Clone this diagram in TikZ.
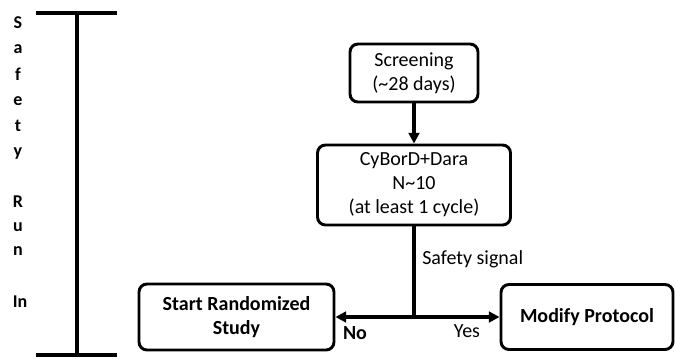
\documentclass[tikz,border=0pt]{standalone}
\usepackage{fontspec}
\setmainfont{Carlito}
\usetikzlibrary{arrows.meta}
\tikzset{
  box/.style={draw=black, line width=2.2pt, rounded corners=6pt, align=center, inner sep=0pt,
    font=\fontsize{15}{18}\selectfont},
  lbl/.style={inner sep=0pt, font=\fontsize{15}{18}\selectfont},
  letter/.style={inner sep=0pt, font=\fontsize{13.5}{16}\selectfont\bfseries},
  conn/.style={line width=2.6pt},
  arr/.style={conn, -{Triangle[length=8pt,width=8pt]}},
}
\begin{document}
\begin{tikzpicture}[x=0.75pt, y=-0.75pt]
\useasboundingbox (0,0) rectangle (675,358);
% timeline
\coordinate (tl) at (36,13);
\coordinate (tr) at (117,13);
\coordinate (tm) at (77,13);
\coordinate (bl) at (36,355);
\coordinate (br) at (117,355);
\coordinate (bm) at (77,355);
\draw[line width=3pt] (tl) -- (tr);
\draw[line width=3pt] (bl) -- (br);
\draw[line width=2.4pt] (tm) -- (bm);
\node[letter] (l1) at (18,23) {S};
\node[letter] (l2) at (18,49) {a};
\node[letter] (l3) at (18,74) {f};
\node[letter] (l4) at (18,101) {e};
\node[letter] (l5) at (18,126) {t};
\node[letter] (l6) at (18,154) {y};
\node[letter] (l7) at (18,202) {R};
\node[letter] (l8) at (18,227) {u};
\node[letter] (l9) at (18,251) {n};
\node[letter] (l10) at (20,302) {In};
% boxes
\node[box, minimum width=96pt, minimum height=43.5pt] (scr) at (414,73) {Screening\\(\textasciitilde28 days)};
\node[box, minimum width=144.75pt, minimum height=60pt] (cyb) at (414,185) {CyBorD+Dara\\N\textasciitilde10\\(at least 1 cycle)};
\node[box, minimum width=146.25pt, minimum height=49.5pt, font=\fontsize{15}{18}\selectfont\bfseries] (start) at (236.5,317) {Start Randomized\\Study};
\node[box, minimum width=129pt, minimum height=48.75pt, font=\fontsize{15}{18}\selectfont\bfseries] (mod) at (587,317) {Modify Protocol};
\coordinate (junc) at (414,317);
% connectors
\draw[arr] (scr) -- (cyb);
\draw[conn] (cyb) -- (junc);
\draw[arr] (junc) -- (start);
\draw[arr] (junc) -- (mod);
\node[lbl, anchor=west] (sig) at (422,259) {Safety signal};
\node[lbl, font=\fontsize{15}{18}\selectfont\bfseries] (no) at (355,333) {No};
\node[lbl] (yes) at (467,331) {Yes};
\end{tikzpicture}
\end{document}
